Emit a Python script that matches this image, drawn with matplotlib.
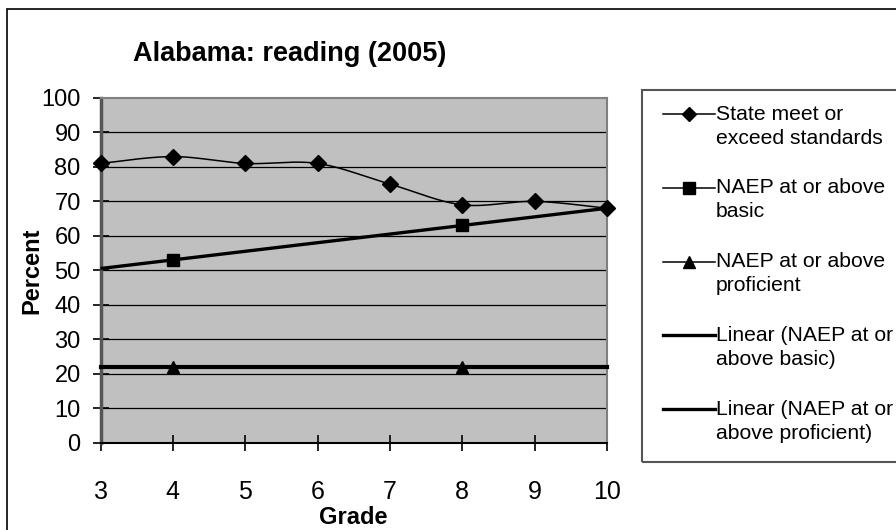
import numpy as np
import matplotlib.pyplot as plt
from matplotlib.lines import Line2D
from matplotlib.patches import Rectangle
from matplotlib.legend_handler import HandlerLine2D

grades = [3, 4, 5, 6, 7, 8, 9, 10]
state_meet = [81, 83, 81, 81, 75, 69, 70, 68]
naep_grades = [4, 8]
naep_basic = [53, 63]
naep_proficient = [22, 22]

labels = ["State meet or\nexceed standards",
          "NAEP at or above\nbasic",
          "NAEP at or above\nproficient",
          "Linear (NAEP at or\nabove basic)",
          "Linear (NAEP at or\nabove proficient)"]

plt.rcParams['font.family'] = ['Liberation Sans', 'DejaVu Sans']


def smooth(x, y, n=30):
    # excel style smoothed line (catmull-rom bezier)
    x = np.asarray(x, float)
    y = np.asarray(y, float)
    px = np.concatenate([[x[0]], x, [x[-1]]])
    py = np.concatenate([[y[0]], y, [y[-1]]])
    xs, ys = [], []
    t = np.linspace(0, 1, n)
    for i in range(1, len(px) - 2):
        p0 = np.array([px[i], py[i]])
        p3 = np.array([px[i + 1], py[i + 1]])
        p1 = p0 + (np.array([px[i + 1], py[i + 1]]) - np.array([px[i - 1], py[i - 1]])) / 6
        p2 = p3 - (np.array([px[i + 2], py[i + 2]]) - np.array([px[i], py[i]])) / 6
        b = ((1 - t) ** 3)[:, None] * p0 + (3 * (1 - t) ** 2 * t)[:, None] * p1 \
            + (3 * (1 - t) * t ** 2)[:, None] * p2 + (t ** 3)[:, None] * p3
        xs.extend(b[:, 0])
        ys.extend(b[:, 1])
    return xs, ys


class FirstLineHandler(HandlerLine2D):
    # put the legend key next to the first text line, like excel
    def create_artists(self, legend, orig_handle, xdescent, ydescent, width, height,
                       fontsize, trans):
        arts = super().create_artists(legend, orig_handle, xdescent, ydescent, width,
                                      height, fontsize, trans)
        for a in arts:
            a.set_ydata(np.asarray(a.get_ydata()) + 0.57 * fontsize)
        return arts


fig = plt.figure(figsize=(8.96, 5.30), dpi=100)
W, H = 896, 530
ax = fig.add_axes([100.5 / W, 1 - 442.5 / H, (607 - 100.5) / W, (442.5 - 98) / H])
ax.set_facecolor('#C0C0C0')

# chart area border
fig.patches.append(Rectangle((7 / W, -0.05), 1.1, 1 - 9 / H + 0.05, transform=fig.transFigure,
                             fill=False, edgecolor='black', linewidth=1.2))
# legend border
fig.patches.append(Rectangle((642 / W, 1 - 462 / H), 0.5, (462 - 90) / H, transform=fig.transFigure,
                             fill=False, edgecolor='#555555', linewidth=1.5))

for v in range(10, 100, 10):
    ax.axhline(v, color='black', linewidth=0.9, zorder=1)

sx, sy = smooth(grades, state_meet)
ax.plot(sx, sy, color='black', linewidth=1.1, zorder=3)
ax.plot(grades, state_meet, linestyle='none', marker='D', markersize=8,
        color='black', zorder=4, clip_on=False)

ax.plot(naep_grades, naep_basic, color='black', linewidth=1.1, marker='s',
        markersize=9, zorder=4)
ax.plot(naep_grades, naep_proficient, color='black', linewidth=1.1, marker='^',
        markersize=9, zorder=4)

# linear trendlines across the axis
xt = np.array([3, 10])
cb = np.polyfit(naep_grades, naep_basic, 1)
cp = np.polyfit(naep_grades, naep_proficient, 1)
ax.plot(xt, np.polyval(cb, xt), color='black', linewidth=2.4, zorder=3,
        solid_capstyle='butt', clip_on=False)
ax.plot(xt, np.polyval(cp, xt), color='black', linewidth=3, zorder=3,
        solid_capstyle='projecting', clip_on=False)

ax.set_xlim(3, 10)
ax.set_ylim(0, 100)
ax.set_xticks(grades)
ax.set_yticks(range(0, 101, 10))
ax.tick_params(axis='both', direction='inout', length=11.5, width=1.2, colors='black')
ax.tick_params(axis='x', pad=21, labelsize=18)
ax.tick_params(axis='y', pad=8.5, labelsize=17)

for s in ['top', 'right']:
    ax.spines[s].set_color('#808080')
    ax.spines[s].set_linewidth(1.5)
ax.spines['left'].set_color('#555555')
ax.spines['left'].set_linewidth(2.5)
ax.spines['bottom'].set_color('black')
ax.spines['bottom'].set_linewidth(1.5)

ax.set_xlabel("Grade", fontsize=17, fontweight='bold', va='center')
ax.set_ylabel("Percent", fontsize=17, fontweight='bold', va='center')
ax.xaxis.set_label_coords((353 - 100.5) / 506.5, (442.5 - 517) / 344.5)
ax.yaxis.set_label_coords((32 - 100.5) / 506.5, 0.5)
fig.text(290 / W, 1 - 54 / H, "Alabama: reading (2005)", fontsize=19.5,
         fontweight='bold', ha='center', va='center')

handles = [
    Line2D([], [], color='black', linewidth=1.1, marker='D', markersize=7),
    Line2D([], [], color='black', linewidth=1.1, marker='s', markersize=8),
    Line2D([], [], color='black', linewidth=1.1, marker='^', markersize=8),
    Line2D([], [], color='black', linewidth=2.4),
    Line2D([], [], color='black', linewidth=2.4),
]
leg = fig.legend(handles, labels, loc='upper left', bbox_to_anchor=(652 / W, 1 - 94 / H),
                 frameon=False, fontsize=15.2, handlelength=2.48, handletextpad=0.05,
                 labelspacing=1.46, borderpad=0,
                 handler_map={Line2D: FirstLineHandler()})
plt.setp(leg.get_texts(), linespacing=1.33)

fig.savefig("out.png", dpi=100)
